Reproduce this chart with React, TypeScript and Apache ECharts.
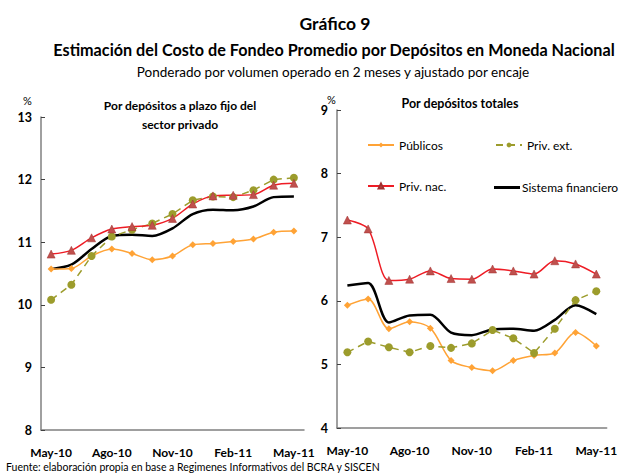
import React, { useEffect, useRef } from "react";
import * as echarts from "echarts";

const categories = ["May-10", "Jun-10", "Jul-10", "Ago-10", "Sep-10", "Oct-10", "Nov-10", "Dic-10", "Ene-11", "Feb-11", "Mar-11", "Abr-11", "May-11"];
const axisLabelsShown = ["May-10", "Ago-10", "Nov-10", "Feb-11", "May-11"];

// Left panel: depósitos a plazo fijo del sector privado
const leftPublicos = [10.57, 10.58, 10.78, 10.89, 10.82, 10.72, 10.78, 10.96, 10.98, 11.01, 11.05, 11.16, 11.18];
const leftPrivExt = [10.08, 10.32, 10.78, 11.09, 11.2, 11.3, 11.45, 11.67, 11.73, 11.72, 11.83, 12.0, 12.03];
const leftPrivNac = [10.81, 10.87, 11.07, 11.21, 11.25, 11.27, 11.38, 11.61, 11.74, 11.75, 11.76, 11.91, 11.94];
const leftSistema = [10.57, 10.64, 10.89, 11.1, 11.12, 11.1, 11.22, 11.45, 11.52, 11.51, 11.57, 11.72, 11.73];

// Right panel: depósitos totales
const rightPublicos = [5.93, 6.03, 5.56, 5.67, 5.57, 5.06, 4.95, 4.9, 5.06, 5.14, 5.18, 5.5, 5.29];
const rightPrivExt = [5.19, 5.36, 5.27, 5.19, 5.29, 5.26, 5.33, 5.54, 5.41, 5.18, 5.56, 6.01, 6.15];
const rightPrivNac = [7.27, 7.13, 6.32, 6.34, 6.47, 6.35, 6.34, 6.5, 6.47, 6.42, 6.63, 6.58, 6.42];
const rightSistema = [6.24, 6.28, 5.66, 5.77, 5.78, 5.5, 5.46, 5.55, 5.56, 5.53, 5.7, 5.93, 5.79];

const FONT = "Lato";
const C_PUB = "#FFA336";
const C_EXT = "#9C9C2C";
const C_NAC = "#EE1C25";
const C_TRI = "#C0504D";

export default function App() {
  const ref = useRef<HTMLDivElement>(null);
  useEffect(() => {
    if (!ref.current) return;
    const chart = echarts.init(ref.current, null, { renderer: "svg" });

    const xAxisBase = (gridIndex: number) => ({
      type: "category",
      gridIndex,
      data: categories,
      boundaryGap: true,
      axisLine: { lineStyle: { color: "#808080", width: 1.5 } },
      axisTick: { inside: true, interval: 2, length: 4, lineStyle: { color: "#404040" } },
      axisLabel: {
        interval: 2,
        margin: 16,
        fontFamily: FONT,
        fontWeight: "bold",
        fontSize: 12,
        color: "#000",
        formatter: (v: string) => (axisLabelsShown.includes(v) ? v : ""),
      },
      splitLine: { show: false },
    });
    const yAxisBase = (gridIndex: number, min: number, max: number) => ({
      type: "value",
      gridIndex,
      min,
      max,
      interval: 1,
      axisLine: { show: true, lineStyle: { color: "#808080", width: 1.5 } },
      axisTick: { show: true, inside: true, length: 4, lineStyle: { color: "#404040" } },
      axisLabel: { fontFamily: FONT, fontWeight: "bold", fontSize: 12.5, color: "#000", margin: 9 },
      splitLine: { show: false },
    });

    const mk = (name: string, data: number[], idx: number, kind: string) => {
      const base: any = {
        name,
        type: "line",
        xAxisIndex: idx,
        yAxisIndex: idx,
        data,
        smooth: 0.3,
      };
      if (kind === "pub") {
        Object.assign(base, {
          symbol: "diamond",
          symbolSize: 7,
          itemStyle: { color: C_PUB },
          lineStyle: { color: C_PUB, width: 1.5 },
        });
      } else if (kind === "ext") {
        Object.assign(base, {
          smooth: false,
          symbol: "circle",
          symbolSize: 8,
          itemStyle: { color: C_EXT },
          lineStyle: { color: C_EXT, width: 1.5, type: [7, 5] },
        });
      } else if (kind === "nac") {
        Object.assign(base, {
          symbol: "triangle",
          symbolSize: 8,
          itemStyle: { color: C_TRI, borderColor: "#A03030", borderWidth: 0.5 },
          lineStyle: { color: C_NAC, width: 1.5 },
        });
      } else {
        Object.assign(base, {
          symbol: "none",
          itemStyle: { color: "#000" },
          lineStyle: { color: "#000", width: 2.5 },
        });
      }
      return base;
    };

    const legendBase = {
      orient: "horizontal",
      padding: 0,
      itemWidth: 26,
      itemHeight: 6,
      textStyle: { fontFamily: FONT, fontSize: 12, color: "#000" },
      selectedMode: false,
    };

    chart.setOption({
      animation: false,
      backgroundColor: "#fff",
      title: [
        { text: "Gráfico 9", left: 330, top: 9, textAlign: "center", textStyle: { fontFamily: FONT, fontWeight: "bold", fontSize: 17.5, color: "#000" } },
        { text: "Estimación del Costo de Fondeo Promedio por Depósitos en Moneda Nacional", left: 329, top: 36, textAlign: "center", textStyle: { fontFamily: FONT, fontWeight: "bold", fontSize: 16.2, color: "#000" } },
        { text: "Ponderado por volumen operado en 2 meses y ajustado por encaje", left: 328, top: 60, textAlign: "center", textStyle: { fontFamily: FONT, fontWeight: "normal", fontSize: 13.5, color: "#000" } },
        { text: "Por depósitos a plazo fijo del\nsector privado", left: 175, top: 91, textAlign: "center", textStyle: { fontFamily: FONT, fontWeight: "bold", fontSize: 12, color: "#000", lineHeight: 19 } },
        { text: "Por depósitos totales", left: 455, top: 92, textAlign: "center", textStyle: { fontFamily: FONT, fontWeight: "bold", fontSize: 12.5, color: "#000" } },
        { text: "%", left: 18, top: 90, textStyle: { fontFamily: FONT, fontWeight: "normal", fontSize: 11, color: "#000" } },
        { text: "%", left: 322, top: 89, textStyle: { fontFamily: FONT, fontWeight: "normal", fontSize: 11, color: "#000" } },
        { text: "Fuente: elaboración propia en base a Regimenes Informativos del BCRA y SISCEN", left: 1, top: 456, textStyle: { fontFamily: FONT, fontWeight: "normal", fontSize: 10.5, color: "#000", lineHeight: 12 } },
      ],
      legend: [
        { ...legendBase, left: 367, top: 139, data: ["Públicos"] },
        { ...legendBase, left: 495, top: 139, data: ["Priv. ext."] },
        { ...legendBase, left: 367, top: 180, data: ["Priv. nac."] },
        {
          ...legendBase,
          left: 494,
          top: 181.5,
          itemHeight: 3,
          textStyle: { fontFamily: FONT, fontSize: 12, color: "#000", padding: [0, 0, 0, -3] },
          data: [{ name: "Sistema financiero", icon: "rect" }],
        },
      ],
      grid: [
        { left: 41, top: 117, width: 263, height: 313 },
        { left: 337, top: 110, width: 275, height: 318 },
      ],
      xAxis: [xAxisBase(0), xAxisBase(1)],
      yAxis: [yAxisBase(0, 8, 13), yAxisBase(1, 4, 9)],
      series: [
        mk("Sistema financiero", leftSistema, 0, "sis"),
        mk("Públicos", leftPublicos, 0, "pub"),
        mk("Priv. ext.", leftPrivExt, 0, "ext"),
        mk("Priv. nac.", leftPrivNac, 0, "nac"),
        mk("Sistema financiero", rightSistema, 1, "sis"),
        mk("Públicos", rightPublicos, 1, "pub"),
        mk("Priv. ext.", rightPrivExt, 1, "ext"),
        mk("Priv. nac.", rightPrivNac, 1, "nac"),
      ],
    });
    return () => chart.dispose();
  }, []);
  return <div ref={ref} style={{ position: "fixed", left: 0, top: 0, width: 620, height: 473 }} />;
}
